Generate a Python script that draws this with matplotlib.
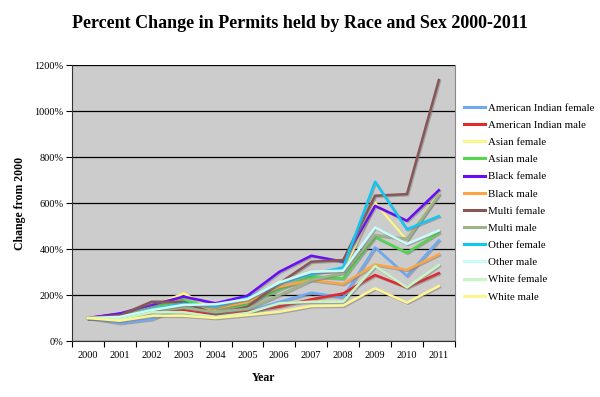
import matplotlib
matplotlib.use('Agg')
import matplotlib.pyplot as plt
import matplotlib.patheffects as pe
import numpy as np
from matplotlib.lines import Line2D
from matplotlib.ticker import FuncFormatter

years = ['2000', '2001', '2002', '2003', '2004', '2005',
         '2006', '2007', '2008', '2009', '2010', '2011']

am_ind_female = [100, 78, 95, 150, 120, 130, 170, 210, 190, 407, 283, 438]
am_ind_male = [100, 118, 135, 135, 115, 127, 150, 181, 207, 287, 233, 295]
asian_female = [100, 100, 150, 207, 135, 165, 258, 300, 305, 601, 439, 642]
asian_male = [100, 100, 145, 178, 142, 158, 225, 280, 272, 453, 384, 471]
black_female = [100, 120, 157, 193, 164, 197, 301, 371, 345, 588, 523, 656]
black_male = [100, 100, 140, 160, 142, 170, 236, 265, 248, 333, 309, 377]
multi_female = [100, 112, 171, 170, 116, 149, 251, 345, 352, 632, 639, 1135]
multi_male = [100, 90, 128, 145, 125, 140, 200, 265, 296, 461, 445, 635]
other_female = [100, 102, 139, 162, 150, 186, 251, 290, 320, 693, 486, 543]
other_male = [100, 105, 135, 157, 160, 182, 255, 301, 306, 494, 422, 481]
white_female = [100, 95, 125, 125, 105, 122, 164, 171, 171, 326, 233, 330]
white_male = [100, 88, 110, 110, 100, 113, 127, 152, 154, 229, 167, 239]

labels = ['American Indian female', 'American Indian male', 'Asian female',
          'Asian male', 'Black female', 'Black male', 'Multi female',
          'Multi male', 'Other female', 'Other male', 'White female',
          'White male']
series = [am_ind_female, am_ind_male, asian_female, asian_male, black_female,
          black_male, multi_female, multi_male, other_female, other_male,
          white_female, white_male]
colors = ['#6fa8f5', '#e0282d', '#fbf58c', '#4fd84a', '#6a0cf5', '#fba545',
          '#875656', '#9cb48a', '#12c6f2', '#c9fbfb', '#c8f5c4', '#fdf590']

plt.rcParams['font.family'] = ['Liberation Serif', 'DejaVu Serif']

fig = plt.figure(figsize=(6.0, 3.97), dpi=100)
ax = fig.add_axes([0.12, 0.141, 0.638, 0.695])
ax.set_facecolor('#cccccc')

x = np.arange(len(years))
shadow = [pe.SimpleLineShadow(offset=(0.8, -0.8), shadow_color='#777777', alpha=0.5),
          pe.Normal()]
for vals, col in zip(series, colors):
    ax.plot(x, vals, color=col, linewidth=1.8, path_effects=shadow)

ax.set_xlim(-0.5, len(years) - 0.5)
ax.set_ylim(0, 1200)
ax.set_yticks(range(0, 1201, 200))
ax.yaxis.set_major_formatter(FuncFormatter(lambda v, p: f'{int(v)}%'))
ax.set_xticks(x)
ax.set_xticklabels(years)
ax.set_xticks(np.arange(-0.5, len(years), 1), minor=True)
ax.tick_params(axis='x', which='major', length=0, labelsize=7.5, pad=7)
ax.tick_params(axis='x', which='minor', length=4, direction='out', width=0.8)
ax.tick_params(axis='y', length=4, direction='out', width=0.8, labelsize=7.5, pad=2)
ax.grid(axis='y', color='black', linewidth=0.9)
ax.set_axisbelow(True)
ax.spines['top'].set_visible(False)
ax.spines['right'].set_color('#888888')
ax.spines['left'].set_color('#333333')
ax.spines['bottom'].set_color('#333333')

ax.set_xlabel('Year', fontsize=8.5, fontweight='bold', labelpad=9)
ax.set_ylabel('Change from 2000', fontsize=8.5, fontweight='bold', labelpad=6)
fig.text(0.5, 0.94, 'Percent Change in Permits held by Race and Sex 2000-2011',
         ha='center', va='center', fontsize=13, fontweight='bold')

handles = [Line2D([], [], color=c, linewidth=2.2) for c in colors]
ax.legend(handles, labels, loc='upper left', bbox_to_anchor=(1.014, 0.878),
          frameon=False, fontsize=7.8, handlelength=1.9, handletextpad=0.3,
          labelspacing=0.70, borderaxespad=0)

fig.savefig('out.png', dpi=100)
